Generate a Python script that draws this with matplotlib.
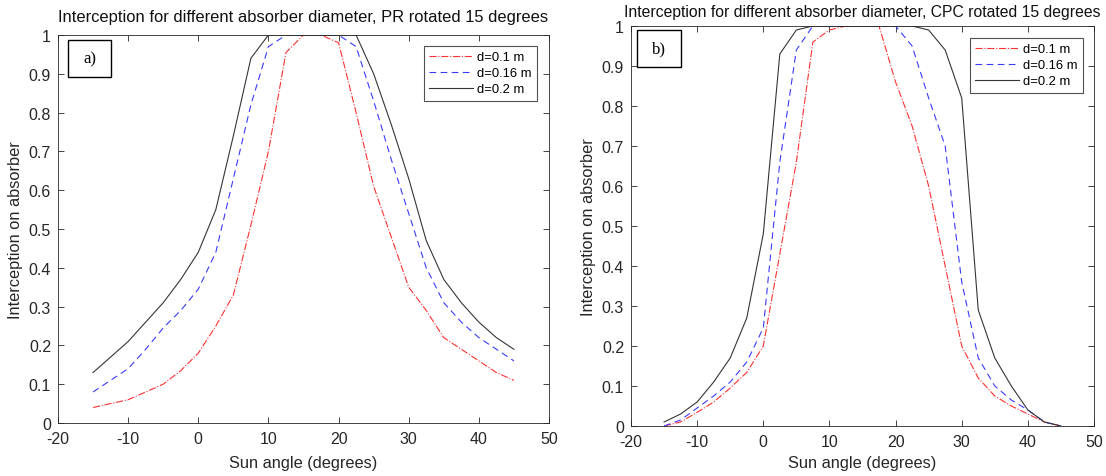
import matplotlib
matplotlib.use("Agg")
import matplotlib.pyplot as plt
from matplotlib.patches import Rectangle

plt.rcParams['font.family'] = ['Liberation Sans', 'DejaVu Sans']
plt.rcParams['axes.unicode_minus'] = False

angles = [-15, -12.5, -10, -7.5, -5, -2.5, 0, 2.5, 5, 7.5, 10, 12.5, 15,
          17.5, 20, 22.5, 25, 27.5, 30, 32.5, 35, 37.5, 40, 42.5, 45]

# Panel a) PR rotated 15 degrees
pr_d010 = [0.04, 0.05, 0.06, 0.08, 0.10, 0.135, 0.18, 0.25, 0.33, 0.51, 0.70, 0.955, 1.0,
           1.0, 0.98, 0.80, 0.61, 0.48, 0.35, 0.29, 0.22, 0.19, 0.16, 0.13, 0.11]
pr_d016 = [0.08, 0.11, 0.14, 0.19, 0.245, 0.29, 0.345, 0.44, 0.63, 0.82, 0.97, 1.0, 1.0,
           1.0, 1.0, 0.97, 0.83, 0.68, 0.54, 0.40, 0.31, 0.26, 0.22, 0.19, 0.16]
pr_d020 = [0.13, 0.17, 0.21, 0.26, 0.31, 0.37, 0.44, 0.55, 0.74, 0.94, 1.0, 1.0, 1.0,
           1.0, 1.0, 1.0, 0.90, 0.77, 0.63, 0.47, 0.37, 0.31, 0.26, 0.22, 0.19]

# Panel b) CPC rotated 15 degrees
cpc_d010 = [0.0, 0.01, 0.034, 0.06, 0.095, 0.134, 0.20, 0.43, 0.66, 0.96, 0.99, 1.0, 1.0,
            1.0, 0.86, 0.75, 0.60, 0.40, 0.20, 0.12, 0.075, 0.05, 0.03, 0.01, 0.0]
cpc_d016 = [0.0, 0.015, 0.045, 0.075, 0.11, 0.16, 0.245, 0.66, 0.94, 1.0, 1.0, 1.0, 1.0,
            1.0, 1.0, 0.95, 0.82, 0.70, 0.36, 0.17, 0.10, 0.065, 0.04, 0.01, 0.0]
cpc_d020 = [0.01, 0.03, 0.06, 0.11, 0.17, 0.27, 0.48, 0.93, 0.99, 1.0, 1.0, 1.0, 1.0,
            1.0, 1.0, 1.0, 0.99, 0.94, 0.82, 0.29, 0.17, 0.10, 0.04, 0.01, 0.0]

labels = ['d=0.1 m', 'd=0.16 m', 'd=0.2 m']
titles = ['Interception for different absorber diameter, PR rotated 15 degrees',
          'Interception for different absorber diameter, CPC rotated 15 degrees']
panel_tags = ['a)', 'b)']
xticks = [-20, -10, 0, 10, 20, 30, 40, 50]
yticks = [0, 0.1, 0.2, 0.3, 0.4, 0.5, 0.6, 0.7, 0.8, 0.9, 1]
ytick_labels = ['0', '0.1', '0.2', '0.3', '0.4', '0.5', '0.6', '0.7', '0.8', '0.9', '1']

W, H = 1106, 477
fig = plt.figure(figsize=(W / 100, H / 100), dpi=100)
fig.patch.set_facecolor('white')

def px_axes(l, t, r, b):
    return fig.add_axes([l / W, (H - b) / H, (r - l) / W, (b - t) / H])

axes_px = [(58, 36, 549, 424), (631, 27, 1094, 427)]
tag_boxes = [(68, 41, 111, 78), (637, 31, 681, 68)]
legend_anchor = [(537, 47), (1083, 39)]
title_size = [11.9, 11.3]
title_pad = [10, 7]
xlabel_pad = [6, 4]
data = [(pr_d010, pr_d016, pr_d020), (cpc_d010, cpc_d016, cpc_d020)]

axcol = '#262626'
for i in range(2):
    ax = px_axes(*axes_px[i])
    s1, s2, s3 = data[i]
    ax.plot(angles, s1, color='#ff3030', ls='-.', lw=0.8, label=labels[0])
    ax.plot(angles, s2, color='#3a3aff', ls=(0, (6, 4)), lw=0.8, label=labels[1])
    ax.plot(angles, s3, color='#353535', ls='-', lw=0.8, label=labels[2])
    ax.set_xlim(-20, 50)
    ax.set_ylim(0, 1)
    ax.set_xticks(xticks)
    ax.set_yticks(yticks)
    ax.set_yticklabels(ytick_labels)
    ax.tick_params(direction='in', top=True, right=True, length=4, width=0.6,
                   colors=axcol, labelsize=11.5)
    ax.tick_params(axis='x', pad=6)
    ax.tick_params(axis='y', pad=5)
    for sp in ax.spines.values():
        sp.set_color(axcol)
        sp.set_linewidth(0.6)
    ax.set_title(titles[i], fontsize=title_size[i], color='#101010', pad=title_pad[i])
    ax.set_xlabel('Sun angle (degrees)', fontsize=11.8, color=axcol, labelpad=xlabel_pad[i])
    ax.set_ylabel('Interception on absorber', fontsize=11.8, color=axcol, labelpad=4)
    lx, ly = legend_anchor[i]
    leg = ax.legend(loc='upper right', bbox_to_anchor=(lx / W, (H - ly) / H),
                    bbox_transform=fig.transFigure, fontsize=9.4, frameon=True,
                    fancybox=False, edgecolor=axcol, handlelength=3.4,
                    borderpad=0.4, labelspacing=0.3, handletextpad=0.3,
                    borderaxespad=0)
    leg.get_frame().set_linewidth(0.8)
    l, t, r, b = tag_boxes[i]
    fig.patches.append(Rectangle((l / W, (H - b) / H), (r - l) / W, (b - t) / H,
                                 transform=fig.transFigure, fill=False,
                                 edgecolor='black', lw=1.0))
    fig.text((l + r) / 2 / W, (H - (t + b) / 2) / H, panel_tags[i],
             ha='center', va='center', fontsize=12, family='Liberation Serif')

fig.savefig('out.png', dpi=100)
